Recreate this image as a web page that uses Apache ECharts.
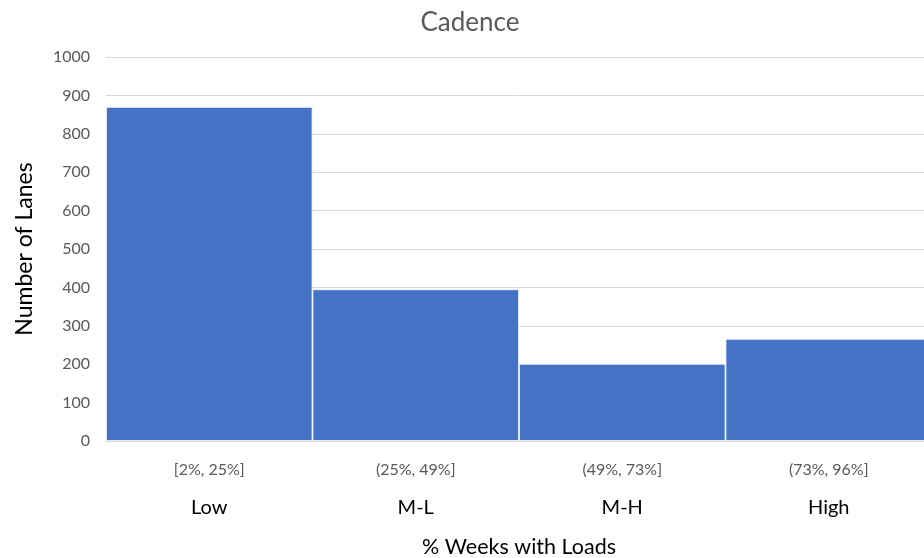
<!DOCTYPE html>
<html>
<head>
<meta charset="utf-8">
<script src="https://cdn.jsdelivr.net/npm/echarts@6/dist/echarts.min.js"></script>
<style>
  html, body { margin: 0; padding: 0; background: #fff; overflow: hidden; }
  #chart { width: 924px; height: 558px; }
</style>
</head>
<body>
<div id="chart"></div>
<script>
// Cadence buckets: share of weeks with loads
const ranges = ['[2%, 25%]', '(25%, 49%]', '(49%, 73%]', '(73%, 96%]'];
const levels = ['Low', 'M-L', 'M-H', 'High'];
const laneCounts = [870, 395, 201, 266];
const yTicks = [0, 100, 200, 300, 400, 500, 600, 700, 800, 900, 1000];

const FONT = 'Lato, "Open Sans", sans-serif';

const chart = echarts.init(document.getElementById('chart'));
chart.setOption({
  animation: false,
  textStyle: { fontFamily: FONT },
  title: {
    text: 'Cadence',
    left: 465,
    textAlign: 'center',
    top: 5,
    textStyle: { fontFamily: FONT, fontSize: 26, fontWeight: 'normal', color: '#595959' }
  },
  // plot area runs past the right edge, so the last bar is cut off
  grid: { left: 106, top: 57, width: 826, height: 384, outerBoundsMode: 'none', containLabel: false },
  xAxis: {
    type: 'category',
    data: levels,
    name: '% Weeks with Loads',
    nameLocation: 'middle',
    nameGap: 95,
    nameTextStyle: { fontFamily: FONT, fontSize: 21.5, color: '#000' },
    axisTick: { show: false },
    axisLine: { show: true, lineStyle: { color: '#d9d9d9' } },
    axisLabel: {
      margin: 11,
      formatter: (v, i) => '{r|' + ranges[i] + '}\n{l|' + v + '}',
      rich: {
        r: { fontFamily: FONT, fontSize: 16, color: '#595959', lineHeight: 36 },
        l: { fontFamily: FONT, fontSize: 20, color: '#000', lineHeight: 40 }
      }
    }
  },
  yAxis: {
    type: 'value',
    min: yTicks[0],
    max: yTicks[yTicks.length - 1],
    interval: yTicks[1] - yTicks[0],
    name: 'Number of Lanes',
    nameLocation: 'middle',
    nameGap: 70,
    nameTextStyle: { fontFamily: FONT, fontSize: 23, color: '#000' },
    axisLine: { show: false },
    axisTick: { show: false },
    axisLabel: { margin: 16, fontFamily: FONT, fontSize: 16, color: '#595959', formatter: v => String(v) },
    splitLine: { lineStyle: { color: '#d9d9d9', width: 1 } }
  },
  series: [{
    type: 'bar',
    data: laneCounts,
    barCategoryGap: 0,
    itemStyle: { color: '#4472c4', borderColor: '#ffffff', borderWidth: 0.8 }
  }]
});
</script>
</body>
</html>
